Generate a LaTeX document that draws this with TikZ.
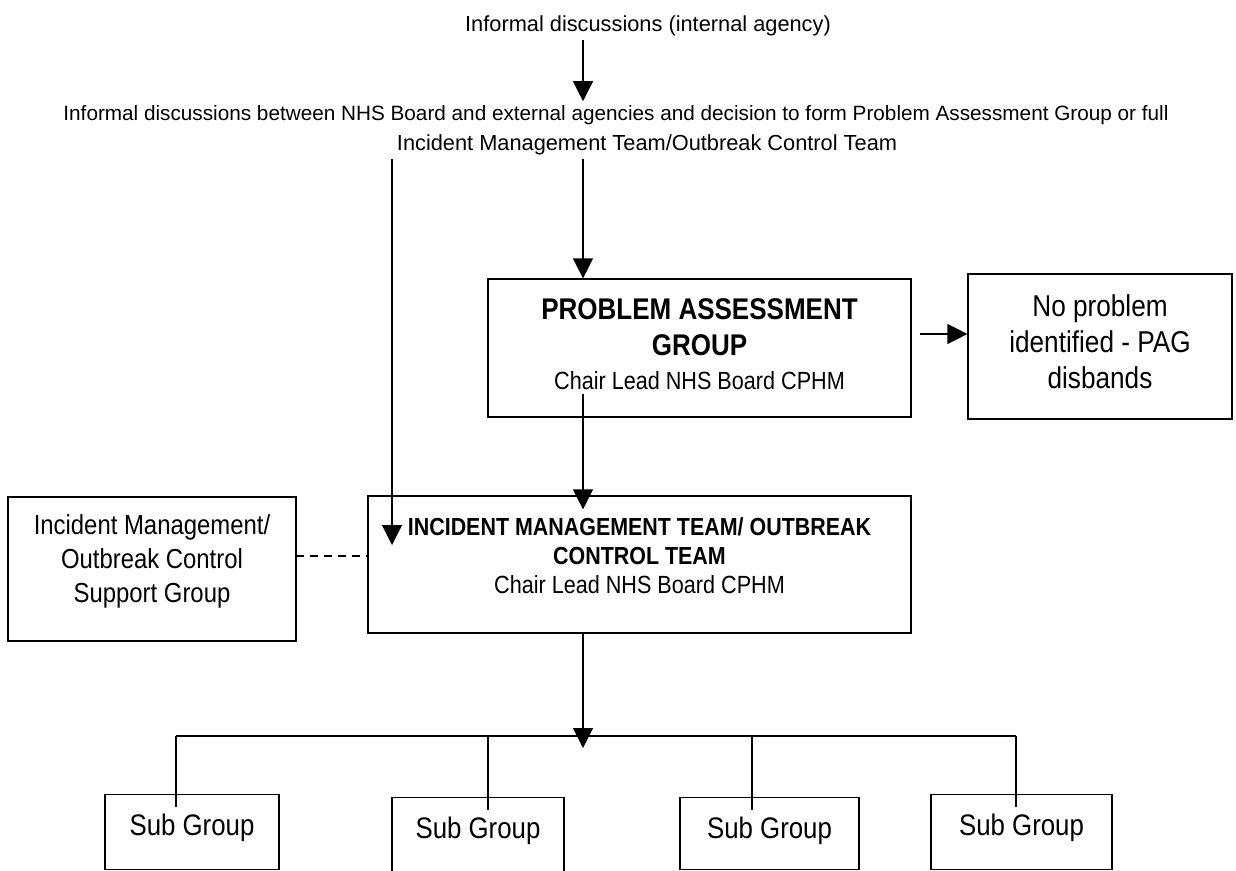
\documentclass[tikz,border=0pt]{standalone}
\usepackage{fontspec}
\usepackage{graphicx}
\setmainfont{Liberation Sans}
\usetikzlibrary{arrows.meta, calc}

\newcommand{\setfs}[2]{\fontsize{#1pt}{#2pt}\selectfont}
\newcommand{\tall}[1]{\scalebox{1}[1.15]{#1}}

\begin{document}
\begin{tikzpicture}[x=0.02cm, y=-0.02cm, line width=0.7pt,
    box/.style={draw, inner sep=0pt, align=center},
    sub/.style={box, anchor=north, text height=0.81cm, font=\setfs{14.7}{17}},
    txt/.style={inner sep=2pt, font=\setfs{12.4}{15}},
    arr/.style={-{Triangle[length=0.4cm,width=0.4cm]}}]
  \clip (0,0) rectangle (1236,871);
  \coordinate (mid) at (583,0);
  \coordinate (left) at (392,545);
  \coordinate (bus) at (583,736);

  \node[txt] (top) at (648,26) {Informal discussions (internal agency)};
  \node[txt, font=\setfs{11.8}{15}] (disc) at (616,115) {Informal discussions between NHS Board and external agencies and decision to form Problem Assessment Group or full};
  \node[txt] (disc2) at (647,145) {Incident Management Team/Outbreak Control Team};

  \node[box, minimum width=8.46cm, minimum height=2.76cm, text depth=0.16cm, font=\setfs{12.3}{19.3}] (pag) at (699.5,348)
    {\tall{\bfseries\setfs{14.8}{21}PROBLEM ASSESSMENT}\\[1.7pt]\tall{\bfseries\setfs{14.8}{21}GROUP}\\\tall{Chair Lead NHS Board CPHM}};
  \node[box, minimum width=5.28cm, minimum height=2.9cm, text depth=0.18cm, font=\setfs{14.9}{20.5}] (nop) at (1100,346.5)
    {\tall{No problem}\\\tall{identified - PAG}\\\tall{disbands}};
  \node[box, minimum width=10.86cm, minimum height=2.74cm, text depth=0.36cm, font=\setfs{12.3}{16.5}] (imt) at (639.5,564.5)
    {\tall{\bfseries\setfs{12.2}{16.5}INCIDENT MANAGEMENT TEAM/ OUTBREAK}\\\tall{\bfseries\setfs{12.2}{16.5}CONTROL TEAM}\\\tall{Chair Lead NHS Board CPHM}};
  \node[box, minimum width=5.76cm, minimum height=2.88cm, text depth=0.42cm, font=\setfs{13.6}{19.3}] (sup) at (152,569)
    {\tall{Incident Management/}\\\tall{Outbreak Control}\\\tall{Support Group}};

  \node[sub, minimum width=3.48cm, text depth=0.69cm] (sub1) at (192,794) {\tall{Sub Group}};
  \node[sub, minimum width=3.44cm, text depth=0.79cm] (sub2) at (478,797) {\tall{Sub Group}};
  \node[sub, minimum width=3.58cm, text depth=0.63cm] (sub3) at (769.5,797) {\tall{Sub Group}};
  \node[sub, minimum width=3.62cm, text depth=0.69cm] (sub4) at (1021.5,794) {\tall{Sub Group}};

  \draw[arr] (top.south -| mid) -- (disc.north -| mid);
  \draw[arr] (disc2.south -| left) -- (left);
  \draw[arr] (disc2.south -| mid) -- (pag.north -| mid);
  \draw[arr] ($(pag.south -| mid)+(0,-24)$) -- ($(imt.north -| mid)+(0,14)$);
  \draw[arr] ($(pag.east)+(8,-14)$) -- ($(nop.west)+(0,-12.5)$);
  \draw[dash pattern=on 4.5pt off 3.4pt] ($(sup.east)+(0,-13)$) -- ($(imt.west)+(0,-8.5)$);
  \draw[arr] (imt.south -| mid) -- ($(bus)+(0,12)$);

  \draw[line width=0.8pt] (bus -| 176,0) -- (bus -| 1016,0);
  \foreach \n/\x in {sub1/176, sub2/488, sub3/752, sub4/1016}
    \draw (bus -| \x,0) -- ($(\n.north -| \x,0)+(0,13)$);
\end{tikzpicture}
\end{document}
